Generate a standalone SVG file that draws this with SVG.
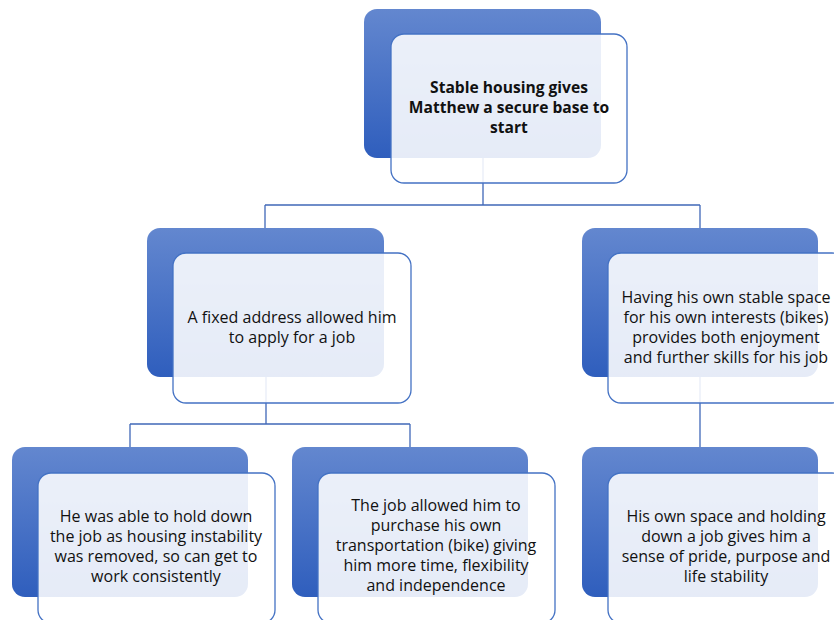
<svg xmlns="http://www.w3.org/2000/svg" width="834" height="620" viewBox="0 0 834 620">
<defs>
<linearGradient id="bg" x1="0" y1="0" x2="0" y2="1">
<stop offset="0" stop-color="#6387cf"/>
<stop offset="1" stop-color="#2f5ebd"/>
</linearGradient>
<style>
.back{fill:url(#bg);}
.front{fill:#ffffff;fill-opacity:0.88;stroke:#4472c4;stroke-width:1.3;}
.conn{fill:none;stroke:#4068b8;stroke-width:1.3;}
text{font-family:"Open Sans","Liberation Sans",Arial,sans-serif;font-size:16px;fill:#111;text-anchor:middle;}
.b{font-weight:bold;font-size:15.6px;}
</style>
</defs>
<rect width="834" height="620" fill="#fff"/>
<g id="connectors">
<path class="conn" d="M483,150 V205 M265,205 H700 M265,205 V236 M700,205 V236"/>
<path class="conn" d="M266,370 V424 M130,424 H410 M130,424 V455 M410,424 V455"/>
<path class="conn" d="M700,370 V455"/>
</g>
<g id="n1">
<rect class="back" x="364" y="9" width="237" height="149" rx="13"/>
<rect class="front" x="391" y="34" width="236" height="149" rx="13"/>
<text class="b" x="509" y="93">Stable housing gives</text>
<text class="b" x="509" y="113">Matthew a secure base to</text>
<text class="b" x="509" y="133">start</text>
</g>
<g id="n2">
<rect class="back" x="147" y="228" width="237" height="149" rx="13"/>
<rect class="front" x="173" y="253" width="238" height="150" rx="13"/>
<text x="292" y="323">A fixed address allowed him</text>
<text x="292" y="343">to apply for a job</text>
</g>
<g id="n3">
<rect class="back" x="582" y="228" width="236" height="149" rx="13"/>
<rect class="front" x="608" y="253" width="237" height="150" rx="13"/>
<text x="726" y="303">Having his own stable space</text>
<text x="726" y="323">for his own interests (bikes)</text>
<text x="726" y="343">provides both enjoyment</text>
<text x="726" y="363">and further skills for his job</text>
</g>
<g id="n4">
<rect class="back" x="12" y="447" width="236" height="150" rx="13"/>
<rect class="front" x="38" y="473" width="237" height="150" rx="13"/>
<text x="156" y="522">He was able to hold down</text>
<text x="156" y="542">the job as housing instability</text>
<text x="156" y="562">was removed, so can get to</text>
<text x="156" y="582">work consistently</text>
</g>
<g id="n5">
<rect class="back" x="292" y="447" width="236" height="150" rx="13"/>
<rect class="front" x="318" y="473" width="237" height="150" rx="13"/>
<text x="436" y="511">The job allowed him to</text>
<text x="436" y="531">purchase his own</text>
<text x="436" y="551">transportation (bike) giving</text>
<text x="436" y="571">him more time, flexibility</text>
<text x="436" y="591">and independence</text>
</g>
<g id="n6">
<rect class="back" x="582" y="447" width="236" height="150" rx="13"/>
<rect class="front" x="608" y="473" width="237" height="150" rx="13"/>
<text x="726" y="522">His own space and holding</text>
<text x="726" y="542">down a job gives him a</text>
<text x="726" y="562">sense of pride, purpose and</text>
<text x="726" y="582">life stability</text>
</g>
</svg>
